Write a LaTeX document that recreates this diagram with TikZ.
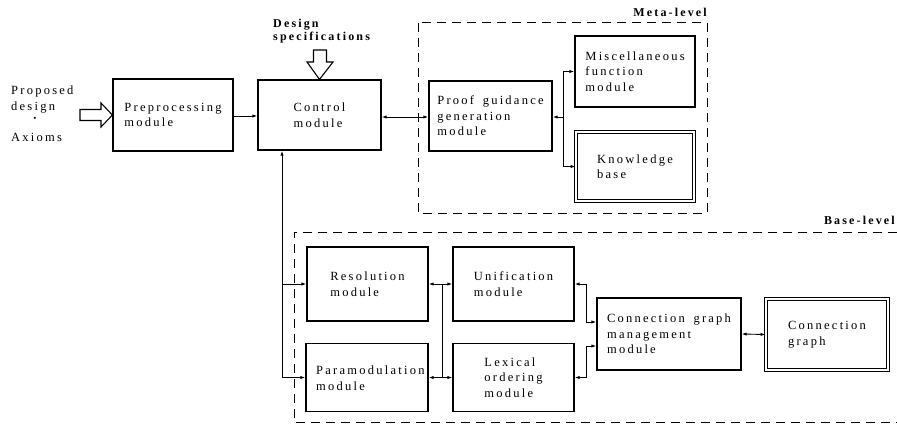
\documentclass[tikz,border=0pt]{standalone}
\usepackage{fontspec}
\setmainfont{Liberation Serif}[LetterSpace=18, WordSpace=1.6]
\usetikzlibrary{arrows.meta}
\begin{document}
\begin{tikzpicture}[x=1pt,y=-1pt,
  every node/.style={font=\fontsize{12.5}{15.5}\selectfont, inner sep=0pt},
  box/.style={draw, line width=1.2pt, align=left},
  dbox/.style={draw, double, double distance=2.2pt, line width=1pt, align=left},
  arr/.style={line width=0.9pt, -{Latex[length=5pt,width=3.2pt]}},
  bi/.style={line width=0.9pt, {Latex[length=5pt,width=3.2pt]}-{Latex[length=5pt,width=3.2pt]}},
  dsh/.style={line width=1pt, dash pattern=on 9pt off 6pt},
  hollow/.style={draw, line width=1.1pt, fill=white, line join=miter},
  lbl/.style={font=\fontsize{12}{13}\selectfont\bfseries, align=left}]
\useasboundingbox (0,0) rectangle (897,428);

% dashed level frames
\draw[dsh] (418,23) rectangle (707,213);
\draw[dsh] (897,232) -- (294,232) -- (294,422) -- (897,422);
\node[lbl, anchor=east] (meta) at (707,12) {Meta-level};
\node[lbl, anchor=east] (base) at (895,220) {Base-level};

% boxes
\node[box, minimum width=120, minimum height=72] (pre) at (173,115) {Preprocessing\\module};
\node[box, minimum width=123, minimum height=70] (ctrl) at (319.5,115) {Control\\module};
\node[box, minimum width=123, minimum height=70] (proof) at (490.5,116) {Proof guidance\\generation\\module};
\node[box, minimum width=120, minimum height=71] (misc) at (635,71.5) {Miscellaneous\\function\\module};
\node[dbox, minimum width=117.8, minimum height=68.8] (kb) at (635,166.5) {Knowledge\\base};
\node[box, minimum width=121, minimum height=74] (res) at (367.5,284) {Resolution\\module};
\node[box, minimum width=121, minimum height=74] (uni) at (513.5,284) {Unification\\module};
\node[box, minimum width=122, minimum height=68] (para) at (367,377.5) {};
\node[anchor=west, align=left] (paratext) at (316,378) {Paramodulation\\module};
\node[box, minimum width=121, minimum height=68] (lex) at (513.5,377.5) {Lexical\\ordering\\module};
\node[box, minimum width=144, minimum height=72] (cgm) at (669,334) {Connection graph\\management\\module};
\node[dbox, minimum width=121.8, minimum height=70.8] (cg) at (827,334.5) {Connection\\graph};

% inputs
\node[anchor=west, align=left, font=\fontsize{12.5}{16}\selectfont] (prop) at (11,100) {Proposed\\design};
\node (dot) at (36,120) {\textbf{·}};
\node[anchor=west] (ax) at (11,137) {Axioms};
\node[lbl, anchor=west] (ds) at (273,31) {Design\\specifications};

\draw[hollow] (80,109.5) -- (101,109.5) -- (101,103) -- (pre.west) -- (101,127) -- (101,120.5) -- (80,120.5) -- cycle;
\draw[hollow] (313.5,50) -- (326.5,50) -- (326.5,62) -- (333,62) -- (ctrl.north) -- (307,62) -- (313.5,62) -- cycle;

% connectors
\draw[arr] (pre.east |- 0,116) -- (ctrl.west |- 0,116);
\draw[bi] (ctrl.east |- 0,117) -- (proof.west |- 0,117);
\coordinate (j1) at (563,117);
\draw[bi] (proof.east |- j1) -- (j1) |- (misc.west);
\draw[arr] (j1) |- (kb.west);

\coordinate (cb) at (282,377.5);
\draw[arr] (cb) -- (cb |- ctrl.south);
\draw[arr] (cb |- res.west) -- (res.west);
\draw[arr] (cb) -- (para.west);

\coordinate (j2) at (442,284);
\draw[bi] (res.east) -- (uni.west);
\draw[bi] (para.east) -- (lex.west);
\draw[line width=0.9pt] (j2) -- (j2 |- para.east);

\coordinate (j3) at (586,322);
\coordinate (j4) at (586,346);
\draw[bi] (uni.east) -- (uni.east -| j3) -- (j3) -- (cgm.west |- j3);
\draw[bi] (lex.east) -- (lex.east -| j4) -- (j4) -- (cgm.west |- j4);
\draw[bi] (cgm.east) -- (cg.west);
\end{tikzpicture}
\end{document}
